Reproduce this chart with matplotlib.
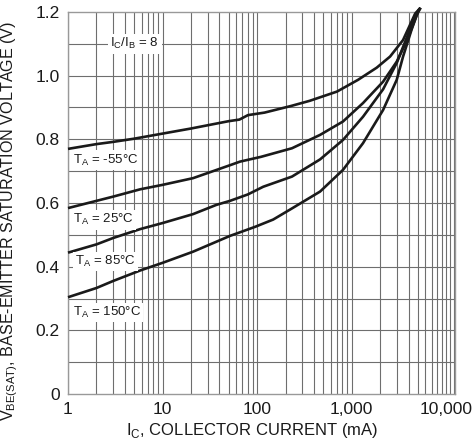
import numpy as np
import matplotlib
matplotlib.use("Agg")
import matplotlib.pyplot as plt
from matplotlib.ticker import FixedLocator, NullFormatter

plt.rcParams['font.family'] = ['Liberation Sans', 'DejaVu Sans']

# collector current (mA) and base-emitter saturation voltage (V)
ic_m55 = [1, 2, 3, 5, 10, 20, 50, 65, 80, 120, 230, 360, 700, 1170, 1840, 2550, 3500, 4700, 5350]
vbe_m55 = [0.770, 0.785, 0.792, 0.802, 0.818, 0.834, 0.857, 0.862, 0.876, 0.884, 0.905, 0.921,
           0.950, 0.987, 1.025, 1.060, 1.112, 1.195, 1.213]

ic_25 = [1, 3, 5.8, 10, 21, 52, 66, 110, 234, 464, 810, 1320, 2150, 3000, 3870, 4900, 5350]
vbe_25 = [0.584, 0.620, 0.643, 0.657, 0.678, 0.719, 0.730, 0.745, 0.772, 0.814, 0.856, 0.914,
          0.981, 1.044, 1.112, 1.191, 1.213]

ic_85 = [1, 2, 3, 5.8, 10, 21, 37, 52, 80, 116, 234, 464, 810, 1320, 2150, 3000, 3870, 4700, 5350]
vbe_85 = [0.444, 0.470, 0.490, 0.518, 0.537, 0.565, 0.594, 0.607, 0.627, 0.651, 0.683, 0.737,
          0.798, 0.871, 0.957, 1.040, 1.123, 1.191, 1.213]

ic_150 = [1, 2, 3, 5.8, 10, 21, 52, 66, 95, 148, 234, 464, 810, 1320, 2150, 3000, 3500, 4300, 5100, 5350]
vbe_150 = [0.304, 0.333, 0.355, 0.388, 0.412, 0.447, 0.497, 0.508, 0.525, 0.548, 0.583, 0.636,
           0.704, 0.788, 0.892, 0.987, 1.060, 1.144, 1.206, 1.213]

x_ticks = [1, 10, 100, 1000, 10000]
x_tick_labels = ['1', '10', '100', '1,000', '10,000']
y_ticks = [0, 0.2, 0.4, 0.6, 0.8, 1.0, 1.2]
y_tick_labels = ['0', '0.2', '0.4', '0.6', '0.8', '1.0', '1.2']

curve_labels = [r'T$_\mathregular{A}$ = -55°C', r'T$_\mathregular{A}$ = 25°C',
                r'T$_\mathregular{A}$ = 85°C', r'T$_\mathregular{A}$ = 150°C']
label_pos = [(1.13, 0.735), (1.13, 0.547), (1.2, 0.416), (1.13, 0.255)]

fig = plt.figure(figsize=(4.77, 4.43), dpi=100)
ax = fig.add_axes([68 / 477, 49 / 443, 387 / 477, 382 / 443])
ax.set_xscale('log')
ax.set_xlim(1, 12400)
ax.set_ylim(0, 1.2)

# grid: every 1..9 per decade and every 0.1 V
minor_x = [m * 10 ** k for k in range(0, 5) for m in range(1, 10) if m * 10 ** k <= 12400]
minor_x += [11000, 12000]
for xv in minor_x:
    ax.axvline(xv, color='#6e6e6e', lw=0.8, zorder=1)
for yv in np.arange(0.1, 1.2, 0.1):
    ax.axhline(yv, color='#6e6e6e', lw=0.8, zorder=1)

for spine in ax.spines.values():
    spine.set_color('#999999')
    spine.set_linewidth(1.0)

ax.xaxis.set_major_locator(FixedLocator(x_ticks))
ax.xaxis.set_minor_locator(FixedLocator([]))
ax.xaxis.set_minor_formatter(NullFormatter())
ax.set_xticklabels(x_tick_labels)
ax.set_yticks(y_ticks)
ax.set_yticklabels(y_tick_labels)
ax.tick_params(length=0, labelsize=12.5, colors='#1a1a1a', pad=6)

for ic, vbe in [(ic_m55, vbe_m55), (ic_25, vbe_25), (ic_85, vbe_85), (ic_150, vbe_150)]:
    ax.plot(ic, vbe, color='#1a1a1a', lw=1.9, zorder=3, clip_on=False, solid_capstyle='butt')

for txt, (xp, yp) in zip(curve_labels, label_pos):
    ax.text(xp, yp, txt, fontsize=9.5, ha='left', va='center', color='#1a1a1a', zorder=4,
            bbox=dict(fc='white', ec='none', pad=1.5))

ax.text(5.1, 1.1, r'I$_\mathregular{C}$/I$_\mathregular{B}$ = 8', fontsize=9.5, ha='center',
        va='center', color='#1a1a1a', zorder=4, bbox=dict(fc='white', ec='none', pad=2))

ax.set_xlabel(r'I$_\mathregular{C}$, COLLECTOR CURRENT (mA)', fontsize=12, color='#1a1a1a')
ax.xaxis.set_label_coords(0.475, -0.07)
ax.set_ylabel(r'V$_\mathregular{BE(SAT)}$, BASE-EMITTER SATURATION VOLTAGE (V)', fontsize=11.6,
              color='#1a1a1a')
ax.yaxis.set_label_coords(-0.125, 0.452)

fig.savefig('out.png', dpi=100)
